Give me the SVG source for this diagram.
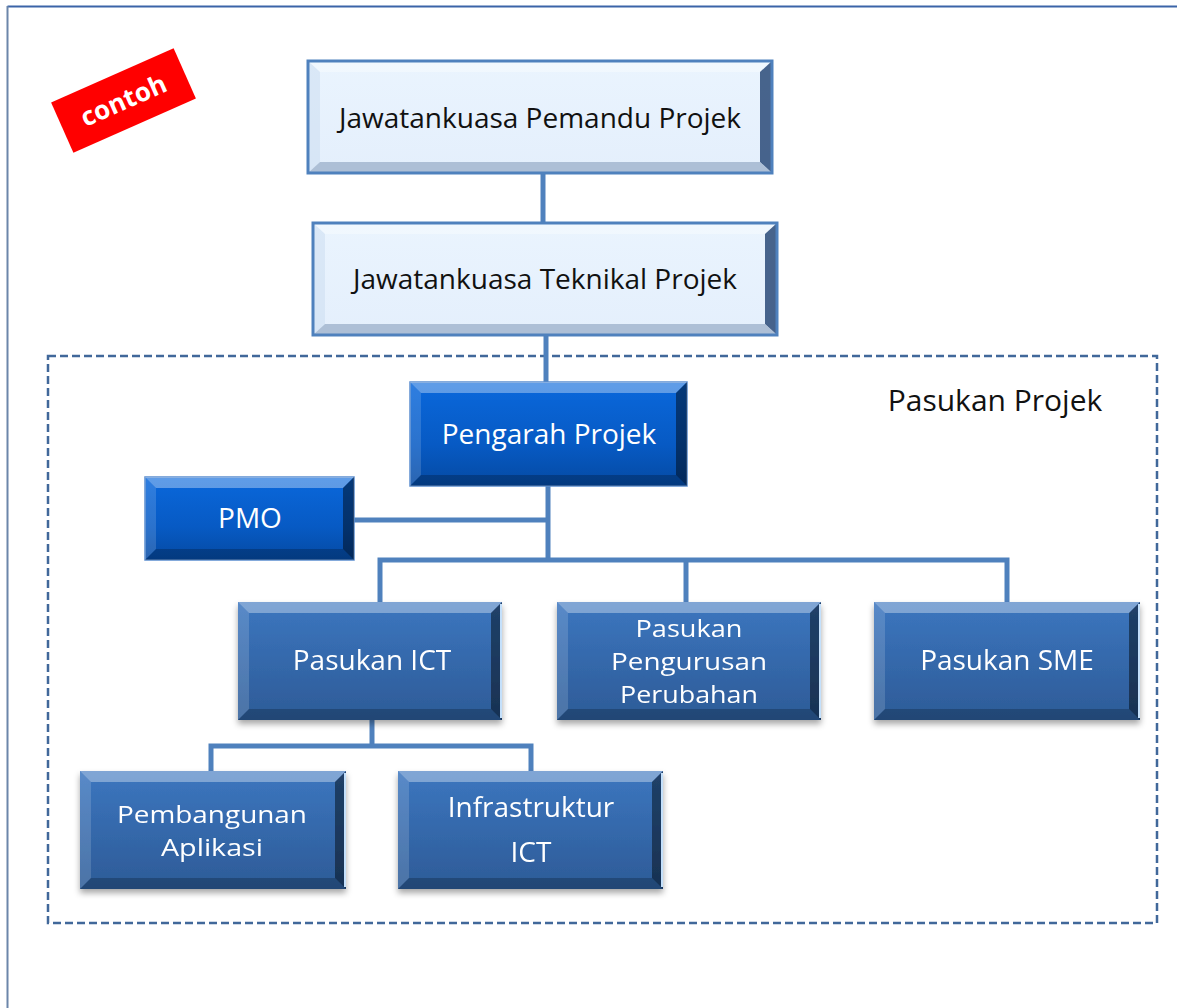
<svg xmlns="http://www.w3.org/2000/svg" width="1177" height="1008" viewBox="0 0 1177 1008">
<style>
text{font-family:"Open Sans","Noto Sans","Liberation Sans",sans-serif;text-anchor:middle}
.dk{fill:#111;font-size:28px}
.wt{fill:#fff;font-size:28px}
.ml{font-size:24px}
.bt{fill:#fff;opacity:.35}
.bl{fill:#fff;opacity:.15}
.br{fill:#000;opacity:.45}
.bb{fill:#000;opacity:.22}
.hl{fill:none;stroke:#c4e0fb;stroke-width:2}
.conn{fill:none;stroke:#4f81bd;stroke-width:5;stroke-linejoin:miter}
</style>
<defs>
<linearGradient id="gLight" x1="0" y1="0" x2="0" y2="1"><stop offset="0" stop-color="#eaf4fe"/><stop offset="1" stop-color="#e4effc"/></linearGradient>
<linearGradient id="gBright" x1="0" y1="0" x2="0" y2="1"><stop offset="0" stop-color="#0a68dc"/><stop offset="0.6" stop-color="#075ac4"/><stop offset="1" stop-color="#054aa3"/></linearGradient>
<linearGradient id="gSteel" x1="0" y1="0" x2="0" y2="1"><stop offset="0" stop-color="#3c76bf"/><stop offset="1" stop-color="#2d5b97"/></linearGradient>
<filter id="sh" x="-10%" y="-10%" width="120%" height="130%"><feDropShadow dx="0" dy="4" stdDeviation="3" flood-color="#000" flood-opacity="0.35"/></filter>
</defs>

<g id="frame">
<line x1="7.5" y1="6.5" x2="1177" y2="6.5" stroke="#3b64a8" stroke-width="2"/>
<line x1="7.5" y1="6" x2="7.5" y2="1008" stroke="#6c86aa" stroke-width="2"/>
</g>

<g id="pasukan-projek">
<rect x="48" y="356" width="1109" height="567" fill="none" stroke="#41689a" stroke-width="2.5" stroke-dasharray="8 4"/>
<text x="995" y="411" style="font-size:30px;fill:#111">Pasukan Projek</text>
</g>

<g id="contoh" transform="translate(123.5 100.5) rotate(-23.9)">
<rect x="-67" y="-27.5" width="134" height="55" fill="#ff0000"/>
<text x="0" y="9" style="font-size:26px;font-weight:bold;fill:#fff">contoh</text>
</g>

<g id="connectors">
<line class="conn" x1="543" y1="172" x2="543" y2="224"/>
<line class="conn" x1="546" y1="334" x2="546" y2="383"/>
<line class="conn" x1="548" y1="485" x2="548" y2="560"/>
<line class="conn" x1="353" y1="520" x2="548" y2="520"/>
<polyline class="conn" points="380,602 380,560 1007,560 1007,602"/>
<line class="conn" x1="686" y1="560" x2="686" y2="603"/>
<line class="conn" x1="372" y1="719" x2="372" y2="746"/>
<polyline class="conn" points="211,771 211,746 531,746 531,771"/>
</g>

<g id="n-jpp">
<rect x="308" y="61" width="464" height="112" fill="url(#gLight)"/>
<polygon class="bt" points="308,61 772,61 760,72 320,72"/>
<polygon points="308,61 320,72 320,162 308,173" fill="#c9dbf0" opacity=".5"/>
<polygon points="772,61 772,173 760,162 760,72" fill="#2a4a78" opacity=".85"/>
<polygon points="308,173 320,162 760,162 772,173" fill="#9fb3cc" opacity=".8"/>
<rect x="308" y="61" width="464" height="112" fill="none" stroke="#4f81bd" stroke-width="3"/>
<text class="dk" x="540" y="128">Jawatankuasa Pemandu Projek</text>
</g>

<g id="n-jtp">
<rect x="313" y="223" width="464" height="112" fill="url(#gLight)"/>
<polygon class="bt" points="313,223 777,223 765,234 325,234"/>
<polygon points="313,223 325,234 325,324 313,335" fill="#c9dbf0" opacity=".5"/>
<polygon points="777,223 777,335 765,324 765,234" fill="#2a4a78" opacity=".85"/>
<polygon points="313,335 325,324 765,324 777,335" fill="#9fb3cc" opacity=".8"/>
<rect x="313" y="223" width="464" height="112" fill="none" stroke="#4f81bd" stroke-width="3"/>
<text class="dk" x="545" y="289">Jawatankuasa Teknikal Projek</text>
</g>

<g id="n-pengarah">
<rect x="410" y="382" width="277" height="104" fill="url(#gBright)" stroke="#5c8fd0" stroke-width="1.5"/>
<polygon class="bt" points="410,382 687,382 676,393 421,393"/>
<polygon class="bl" points="410,382 421,393 421,475 410,486"/>
<polygon class="br" points="687,382 687,486 676,475 676,393"/>
<polygon class="bb" points="410,486 421,475 676,475 687,486"/>
<text class="wt" x="549" y="444">Pengarah Projek</text>
</g>

<g id="n-pmo">
<rect x="145" y="477" width="209" height="83" fill="url(#gBright)" stroke="#5c8fd0" stroke-width="1.5"/>
<polygon class="bt" points="145,477 354,477 343,488 156,488"/>
<polygon class="bl" points="145,477 156,488 156,549 145,560"/>
<polygon class="br" points="354,477 354,560 343,549 343,488"/>
<polygon class="bb" points="145,560 156,549 343,549 354,560"/>
<text class="wt" x="250" y="528">PMO</text>
</g>

<g id="n-ict" filter="url(#sh)">
<rect x="238" y="602" width="264" height="118" fill="url(#gSteel)"/>
<polygon class="bt" points="238,602 502,602 491,613 249,613"/>
<polygon class="bl" points="238,602 249,613 249,709 238,720"/>
<polygon class="br" points="502,602 502,720 491,709 491,613"/>
<polygon class="bb" points="238,720 249,709 491,709 502,720"/>
<line class="hl" x1="501" y1="604" x2="501" y2="718"/>
<text class="wt" x="372" y="670">Pasukan ICT</text>
</g>

<g id="n-ppp" filter="url(#sh)">
<rect x="557" y="602" width="264" height="118" fill="url(#gSteel)"/>
<polygon class="bt" points="557,602 821,602 810,613 568,613"/>
<polygon class="bl" points="557,602 568,613 568,709 557,720"/>
<polygon class="br" points="821,602 821,720 810,709 810,613"/>
<polygon class="bb" points="557,720 568,709 810,709 821,720"/>
<line class="hl" x1="820" y1="604" x2="820" y2="718"/>
<text class="wt ml" x="689" y="637" textLength="107" lengthAdjust="spacingAndGlyphs">Pasukan</text>
<text class="wt ml" x="689" y="670" textLength="156" lengthAdjust="spacingAndGlyphs">Pengurusan</text>
<text class="wt ml" x="689" y="703" textLength="138" lengthAdjust="spacingAndGlyphs">Perubahan</text>
</g>

<g id="n-sme" filter="url(#sh)">
<rect x="874" y="602" width="266" height="118" fill="url(#gSteel)"/>
<polygon class="bt" points="874,602 1140,602 1129,613 885,613"/>
<polygon class="bl" points="874,602 885,613 885,709 874,720"/>
<polygon class="br" points="1140,602 1140,720 1129,709 1129,613"/>
<polygon class="bb" points="874,720 885,709 1129,709 1140,720"/>
<line class="hl" x1="1139" y1="604" x2="1139" y2="718"/>
<text class="wt" x="1007" y="670">Pasukan SME</text>
</g>

<g id="n-pa" filter="url(#sh)">
<rect x="80" y="771" width="266" height="118" fill="url(#gSteel)"/>
<polygon class="bt" points="80,771 346,771 335,782 91,782"/>
<polygon class="bl" points="80,771 91,782 91,878 80,889"/>
<polygon class="br" points="346,771 346,889 335,878 335,782"/>
<polygon class="bb" points="80,889 91,878 335,878 346,889"/>
<line class="hl" x1="345" y1="773" x2="345" y2="887"/>
<text class="wt ml" x="212" y="823" textLength="190" lengthAdjust="spacingAndGlyphs">Pembangunan</text>
<text class="wt ml" x="212" y="856" textLength="102" lengthAdjust="spacingAndGlyphs">Aplikasi</text>
</g>

<g id="n-infra" filter="url(#sh)">
<rect x="398" y="771" width="265" height="118" fill="url(#gSteel)"/>
<polygon class="bt" points="398,771 663,771 652,782 409,782"/>
<polygon class="bl" points="398,771 409,782 409,878 398,889"/>
<polygon class="br" points="663,771 663,889 652,878 652,782"/>
<polygon class="bb" points="398,889 409,878 652,878 663,889"/>
<line class="hl" x1="662" y1="773" x2="662" y2="887"/>
<text class="wt" x="531" y="817">Infrastruktur</text>
<text class="wt" x="531" y="862">ICT</text>
</g>
</svg>
